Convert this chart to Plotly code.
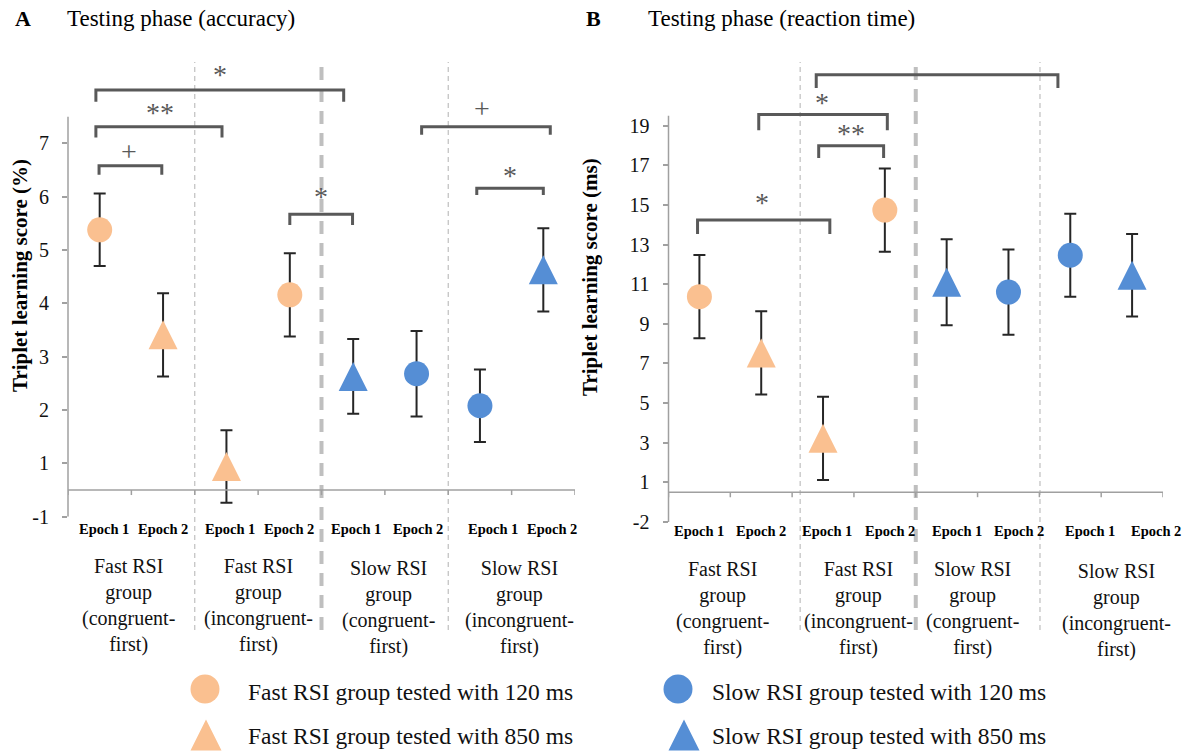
import plotly.graph_objects as go

W, H = 1194, 751

# ---------------- data ----------------
epoch_labels = ["Epoch 1", "Epoch 2", "Epoch 1", "Epoch 2", "Epoch 1", "Epoch 2", "Epoch 1", "Epoch 2"]
group_labels = [
    "Fast RSI<br>group<br>(congruent-<br>first)",
    "Fast RSI<br>group<br>(incongruent-<br>first)",
    "Slow RSI<br>group<br>(congruent-<br>first)",
    "Slow RSI<br>group<br>(incongruent-<br>first)",
]

# Panel A: accuracy (%)
acc_mean = [5.38, 3.41, 0.94, 4.16, 2.63, 2.68, 2.08, 4.63]
acc_err = [0.68, 0.78, 0.68, 0.78, 0.70, 0.80, 0.68, 0.78]
acc_tickvals = [0, 1, 2, 3, 4, 5, 6, 7]
acc_ticktext = ["-1", "1", "2", "3", "4", "5", "6", "7"]

# Panel B: reaction time (ms)
rt_mean = [10.37, 7.53, 3.22, 14.74, 11.10, 10.60, 12.46, 11.45]
rt_err = [2.10, 2.10, 2.10, 2.10, 2.17, 2.15, 2.10, 2.08]
rt_tickvals = [-1, 1, 3, 5, 7, 9, 11, 13, 15, 17, 19]
rt_ticktext = ["-2", "1", "3", "5", "7", "9", "11", "13", "15", "17", "19"]

# which category slot belongs to which series
series_names = [
    "Fast RSI group tested with 120 ms",
    "Fast RSI group tested with 850 ms",
    "Slow RSI group tested with 120 ms",
    "Slow RSI group tested with 850 ms",
]
series_slots = [[0, 3], [1, 2], [5, 6], [4, 7]]

# significance brackets: (x_left, x_right, y_top, y_leg, label, label_x, label_y)
acc_sig = [
    (-0.06, 3.85, 8.00, 7.78, "*", 1.90, 8.38),
    (-0.06, 1.93, 7.31, 7.11, "**", 0.95, 7.68),
    (-0.01, 0.98, 6.58, 6.41, "+", 0.47, 6.95),
    (3.00, 3.99, 5.67, 5.47, "*", 3.49, 6.09),
    (5.08, 7.11, 7.31, 7.16, "+", 6.03, 7.74),
    (5.95, 7.00, 6.16, 6.03, "*", 6.47, 6.50),
]
rt_sig = [
    (1.89, 5.80, 21.57, 20.90, "*", 3.74, 22.50),
    (0.96, 3.04, 19.56, 18.77, "*", 1.98, 20.40),
    (1.93, 2.98, 17.99, 17.37, "**", 2.45, 18.88),
    (-0.03, 2.11, 14.24, 13.53, "*", 1.01, 15.39),
]

# ---------------- style ----------------
ORANGE = "#FAC090"
BLUE = "#558ED5"
SERIF = "Liberation Serif"
AXIS_C = "#A0A0A0"
BRACKET_C = "#595959"
DASH_C = "#BFBFBF"
series_colors = [ORANGE, ORANGE, BLUE, BLUE]
series_shapes = ["circle", "triangle", "circle", "triangle"]

CIRCLE_SIZE = 25
TRI_SIZE = 29


def marker_style(kind, color, csize, tsize):
    if kind == "circle":
        return dict(symbol="circle", size=csize, color=color, line=dict(width=0))
    return dict(symbol="arrow-down", angle=180, standoff=tsize / 2, size=tsize,
                color=color, line=dict(width=0))


def py2p(py):
    return 1 - py / H


fig = go.Figure()

panels = [
    dict(xa="x", ya="y", mean=acc_mean, err=acc_err, px0=68, px1=575,
         yr=(0, 8.7), ybot_px=516.7, ppu=53.33, axis_top=7.5,
         tickvals=acc_tickvals, ticktext=acc_ticktext, sig=acc_sig,
         dashes=[(1.5, "thin"), (3.5, "thick"), (5.5, "thin")],
         epoch_x=[0.07, 1.0, 2.05, 2.99, 4.04, 5.02, 6.2, 7.13], epoch_py=529,
         group_x=[0.46, 2.5, 4.56, 6.62], group_py=[553, 553, 555, 555],
         title="Triplet learning score (%)", title_px=20, title_py=276),
    dict(xa="x2", ya="y2", mean=rt_mean, err=rt_err, px0=668.5, px1=1163,
         yr=(-1, 22), ybot_px=521.9, ppu=19.81, axis_top=19.5,
         tickvals=rt_tickvals, ticktext=rt_ticktext, sig=rt_sig,
         dashes=[(1.63, "thin"), (3.5, "thick"), (5.51, "thin")],
         epoch_x=[-0.01, 1.0, 2.06, 3.08, 4.16, 5.17, 6.32, 7.39], epoch_py=531,
         group_x=[0.37, 2.58, 4.42, 6.75], group_py=[556, 556, 556, 558],
         title="Triplet learning score (ms)", title_px=590, title_py=277),
]

shapes = []
annotations = []

for i, p in enumerate(panels):
    axn = "" if i == 0 else str(i + 1)
    # data traces
    for name, slots, col, kind in zip(series_names, series_slots, series_colors, series_shapes):
        fig.add_trace(go.Scatter(
            x=slots, y=[p["mean"][s] for s in slots],
            mode="markers", name=name, showlegend=False,
            marker=marker_style(kind, col, CIRCLE_SIZE, TRI_SIZE),
            error_y=dict(type="data", array=[p["err"][s] for s in slots],
                         color="#262626", thickness=2, width=6),
            xaxis=p["xa"], yaxis=p["ya"], cliponaxis=False,
        ))
    # axes
    y0, y1 = p["yr"]
    top_px = p["ybot_px"] - (y1 - y0) * p["ppu"]
    fig.update_layout(**{
        "xaxis" + axn: dict(domain=[p["px0"] / W, p["px1"] / W], range=[-0.5, 7.5],
                            showgrid=False, zeroline=False, showline=False,
                            showticklabels=False, ticks="", anchor="y" + axn,
                            automargin=False),
        "yaxis" + axn: dict(domain=[py2p(p["ybot_px"]), py2p(top_px)], range=[y0, y1],
                            showgrid=False, zeroline=False, showline=False,
                            tickvals=p["tickvals"], ticktext=p["ticktext"],
                            ticks="outside", ticklen=5, tickwidth=1.5, tickcolor=AXIS_C,
                            ticklabelstandoff=9, automargin=False,
                            tickfont=dict(family=SERIF, size=20, color="#111"),
                            anchor="x" + axn),
    })
    # vertical separators
    for xv, kind in p["dashes"]:
        shapes.append(dict(type="line", xref=p["xa"], yref="paper", x0=xv, x1=xv,
                           y0=py2p(630), y1=py2p(62), layer="below",
                           line=dict(color=DASH_C, width=4 if kind == "thick" else 1.2,
                                     dash="13px,9px" if kind == "thick" else "5px,4px")))
    # y axis line
    shapes.append(dict(type="line", xref=p["xa"] + " domain", yref=p["ya"], x0=0, x1=0,
                       y0=y0, y1=p["axis_top"], line=dict(color=AXIS_C, width=1.5)))
    # x axis line at 0.5 with tick marks at group boundaries
    shapes.append(dict(type="line", xref=p["xa"], yref=p["ya"], x0=-0.5, x1=7.5,
                       y0=0.5, y1=0.5, line=dict(color=AXIS_C, width=1.5)))
    for b in range(9):
        shapes.append(dict(type="line", xref=p["xa"], yref=p["ya"], ysizemode="pixel",
                           yanchor=0.5, x0=b - 0.5, x1=b - 0.5, y0=0, y1=-5,
                           line=dict(color=AXIS_C, width=1.5)))
    # significance brackets
    for (xl, xr, yt, yl, lab, lx, ly) in p["sig"]:
        shapes.append(dict(type="path", xref=p["xa"], yref=p["ya"],
                           path=f"M {xl},{yl} L {xl},{yt} L {xr},{yt} L {xr},{yl}",
                           line=dict(color=BRACKET_C, width=3)))
        annotations.append(dict(text=lab, x=lx, y=ly, xref=p["xa"], yref=p["ya"],
                                showarrow=False, yshift=-5, xanchor="center",
                                yanchor="middle",
                                font=dict(family=SERIF, size=28, color=BRACKET_C)))
    # epoch labels
    for xv, lab in zip(p["epoch_x"], epoch_labels):
        annotations.append(dict(text="<b>" + lab + "</b>", x=xv, y=py2p(p["epoch_py"]),
                                xref=p["xa"], yref="paper", showarrow=False,
                                xanchor="center", yanchor="middle",
                                font=dict(family=SERIF, size=14.5, color="#000")))
    # group labels
    for xv, gpy, lab in zip(p["group_x"], p["group_py"], group_labels):
        annotations.append(dict(text=lab, x=xv, y=py2p(gpy), xref=p["xa"], yref="paper",
                                showarrow=False, xanchor="center", yanchor="top",
                                align="center",
                                font=dict(family=SERIF, size=20, color="#111")))
    # y title
    annotations.append(dict(text="<b>" + p["title"] + "</b>", x=p["title_px"] / W,
                            y=py2p(p["title_py"]), xref="paper", yref="paper",
                            xanchor="center", yanchor="middle",
                            textangle=-90, showarrow=False,
                            font=dict(family=SERIF, size=21, color="#000")))

# panel titles
title_specs = [("<b>A</b>", 13, 22), ("Testing phase (accuracy)", 65, 23),
               ("<b>B</b>", 584, 22), ("Testing phase (reaction time)", 646, 23)]
for txt, tx, fs in title_specs:
    annotations.append(dict(text=txt, x=tx / W, y=py2p(19), xref="paper", yref="paper",
                            xanchor="left", yanchor="middle", showarrow=False,
                            font=dict(family=SERIF, size=fs, color="#000")))

# manual legend on a full-page overlay axis
legend_pos = [(205, 689, 246, 692), (206, 735, 246, 736), (678, 689, 710, 692), (684, 735, 710, 736)]
for name, col, kind, (mx, my, tx, ty) in zip(series_names, series_colors, series_shapes, legend_pos):
    fig.add_trace(go.Scatter(x=[mx], y=[my], mode="markers", showlegend=False,
                             marker=marker_style(kind, col, 29, 31),
                             xaxis="x3", yaxis="y3", cliponaxis=False, hoverinfo="skip"))
    annotations.append(dict(text=name, x=tx / W, y=py2p(ty), xref="paper", yref="paper",
                            xanchor="left", yanchor="middle", showarrow=False,
                            font=dict(family=SERIF, size=23.5, color="#111")))

fig.update_layout(
    xaxis3=dict(domain=[0, 1], range=[0, W], visible=False, anchor="y3"),
    yaxis3=dict(domain=[0, 1], range=[H, 0], visible=False, anchor="x3"),
    width=W, height=H, autosize=False,
    margin=dict(l=0, r=0, t=0, b=0, autoexpand=False),
    paper_bgcolor="white", plot_bgcolor="rgba(0,0,0,0)",
    shapes=shapes, annotations=annotations,
    showlegend=False,
)

page_css = (
    "var s=document.createElement('style');"
    "s.textContent='html,body{margin:0;padding:0;overflow:hidden;height:751px;width:1194px;}"
    "body>div{line-height:0;font-size:0;height:751px;overflow:hidden;}';"
    "document.head.appendChild(s);"
)
fig.write_html("out.html", post_script=page_css,
               config={"displayModeBar": False, "responsive": False})
